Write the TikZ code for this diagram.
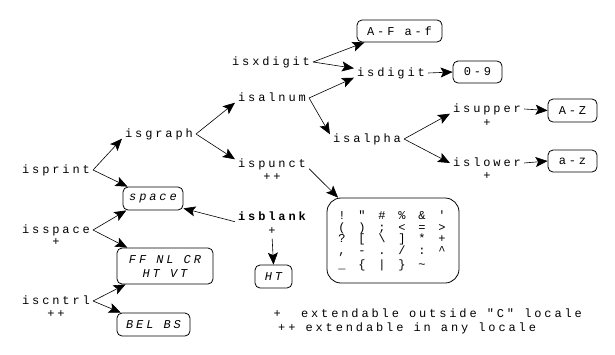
\documentclass[tikz,border=0pt]{standalone}
\usepackage{fontspec}
\setmonofont{Liberation Mono}[LetterSpace=24]
\usetikzlibrary{arrows.meta,calc}
\begin{document}
\begin{tikzpicture}[x=1pt,y=-1pt,
  mfont/.style={font=\fontsize{12}{14}\selectfont\ttfamily},
  lbl/.style={mfont, inner xsep=3pt, inner ysep=1pt, text height=7pt, text depth=0pt},
  lblb/.style={lbl, font=\fontsize{12}{14}\selectfont\ttfamily\bfseries},
  box/.style={draw, line width=0.8pt, rounded corners=5pt, mfont, inner sep=0pt, align=center},
  ibox/.style={box, font=\fontsize{12}{14}\selectfont\ttfamily\itshape},
  pch/.style={mfont, inner sep=0pt, anchor=base},
  leg/.style={mfont, inner sep=0pt, anchor=base west},
  arr/.style={-{Stealth[length=12pt,width=10pt,inset=2.5pt]}, line width=0.6pt}]
\useasboundingbox (0,0) rectangle (615,354);

% labels
\node[lbl] (isxdigit) at (271,62) {isxdigit};
\node[lbl] (isalnum) at (272,98) {isalnum};
\node[lbl] (isgraph) at (159,134) {isgraph};
\node[lbl] (ispunct) at (272,164) {ispunct};
\node[lbl] (ispunctm) at (272,177) {++};
\node[lbl] (isprint) at (56,170) {isprint};
\node[lbl] (isdigit) at (391,73) {isdigit};
\node[lbl] (isupper) at (487,109) {isupper};
\node[lbl] (isupperm) at (487,123) {+};
\node[lbl] (isalpha) at (367,139) {isalpha};
\node[lbl] (islower) at (487,163) {islower};
\node[lbl] (islowerm) at (487,176) {+};
\node[lbl] (isspace) at (56,230) {isspace};
\node[lbl] (isspacem) at (56,242) {+};
\node[lbl] (iscntrl) at (56,301) {iscntrl};
\node[lbl] (iscntrlm) at (56,314) {++};
\node[lblb] (isblank) at (272,217) {isblank};
\node[lbl] (isblankm) at (272,231) {+};

% boxes
\node[box, minimum width=85pt, minimum height=22pt] (af) at (399.5,31) {A-F a-f};
\node[box, minimum width=49pt, minimum height=22pt] (d09) at (477.5,72) {0-9};
\node[box, minimum width=49pt, minimum height=23pt] (AZ) at (572.5,110.5) {A-Z};
\node[box, minimum width=49pt, minimum height=22pt] (az) at (572.5,161) {a-z};
\node[ibox, minimum width=60pt, minimum height=23pt] (space) at (153,198.5) {space};
\node[ibox, minimum width=96pt, minimum height=36pt] (FF) at (165,266) {FF NL CR\\HT VT};
\node[ibox, minimum width=73pt, minimum height=23pt] (BEL) at (153.5,324.5) {BEL BS};
\node[ibox, minimum width=37pt, minimum height=23pt] (HT) at (273.5,276.5) {HT};
\node[box, rounded corners=14pt, minimum width=132pt, minimum height=85pt] (punct) at (393,240.5) {};

% punctuation characters
\foreach \c [count=\i] in {{!},{"},{\#},{\%},{\&},{'}}
  \node[pch] (pa\i) at ({322+20*\i},219) {\c};
\foreach \c [count=\i] in {{(},{)},{;},{<},{=},{>}}
  \node[pch] (pb\i) at ({322+20*\i},231) {\c};
\foreach \c [count=\i] in {{?},{[},{\textbackslash},{]},{*},{+}}
  \node[pch] (pc\i) at ({322+20*\i},242.5) {\c};
\foreach \c [count=\i] in {{,},{-},{.},{/},{:},{\textasciicircum}}
  \node[pch] (pd\i) at ({322+20*\i},254) {\c};
\foreach \c [count=\i] in {{\_},{\{},{|},{\}},{\textasciitilde}}
  \node[pch] (pe\i) at ({322+20*\i},268) {\c};

% legend
\node[leg] (leg1) at (273.5,317.5) {+\ \ extendable outside "C" locale};
\node[leg] (leg2) at (278,331) {++ extendable in any locale};

% connectors
\draw[arr] (isprint.east) -- (isgraph.south west);
\draw[arr] (isprint.east) -- (space.155);
\draw[arr] (isgraph.east) -- (isalnum.south west);
\draw[arr] (isgraph.east) -- (ispunct.north west);
\draw[arr] (isxdigit.east) -- (af.198);
\draw[arr] (isxdigit.east) -- (isdigit.north west);
\draw[arr] (isalnum.east) -- (isdigit.south west);
\draw[arr] (isalnum.east) -- (isalpha.north west);
\draw[arr] (isdigit.east) -- (d09.west);
\draw[arr] (isalpha.east) -- (isupper.south west);
\draw[arr] (isalpha.east) -- (islower.west);
\draw[arr] (isupper.east) -- (AZ.west);
\draw[arr] (islower.east) -- (az.west);
\draw[arr] (ispunct.south east) -- (punct.142);
\draw[arr] (isblank.south west) -- (space.-18);
\draw[arr, shorten <=3pt] (isblankm.south) -- (HT.north);
\draw[arr] (isspace.east) -- (space.204);
\draw[arr] (isspace.east) -- (FF.154);
\draw[arr] (iscntrl.east) -- (FF.205);
\draw[arr] (iscntrl.east) -- (BEL.160);
\end{tikzpicture}
\end{document}
